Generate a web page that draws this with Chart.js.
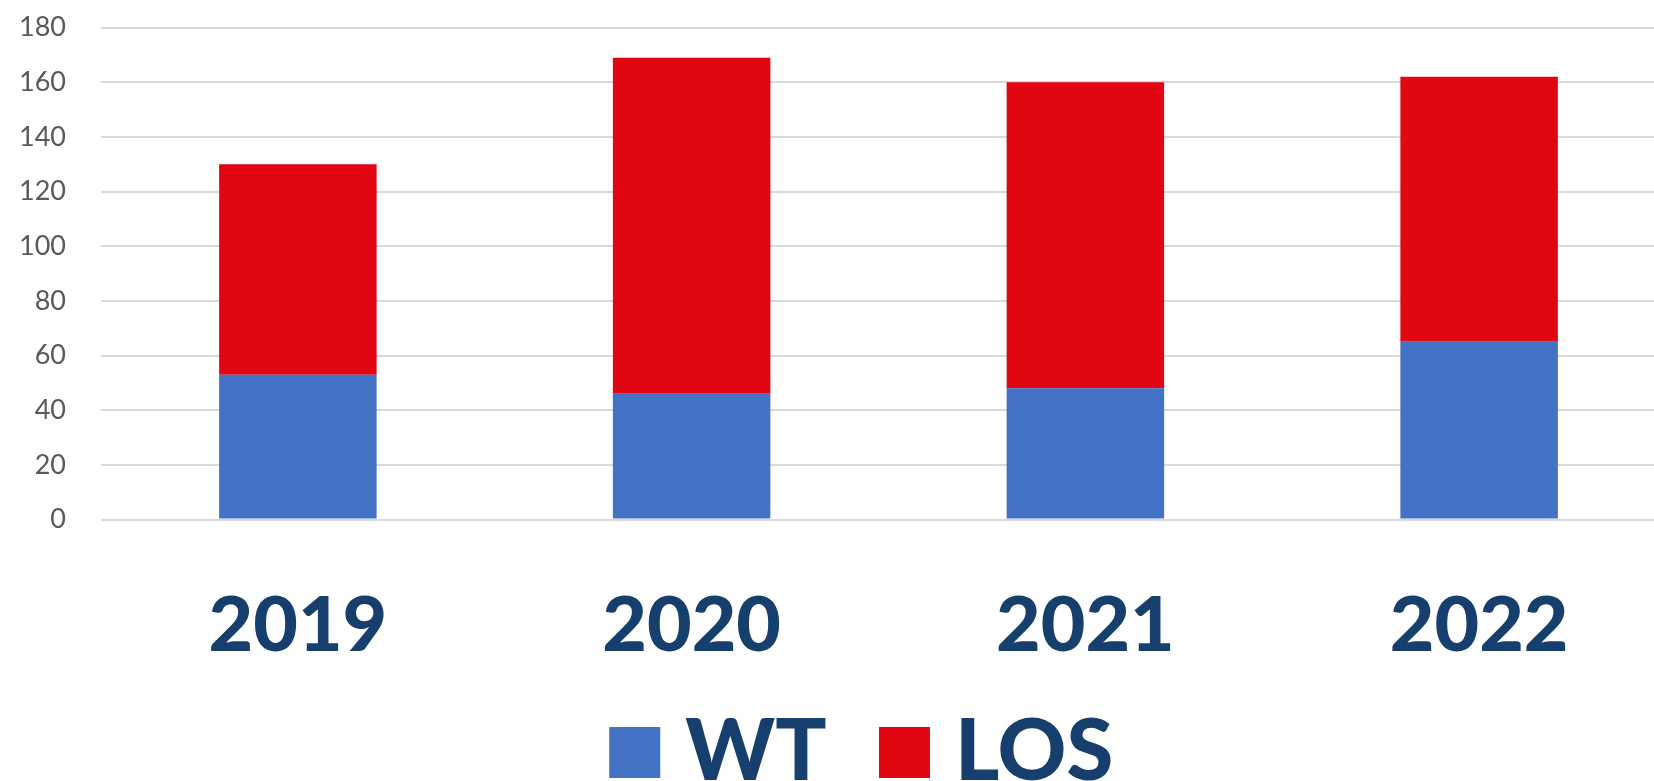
<!DOCTYPE html>
<html>
<head>
<meta charset="utf-8">
<script src="https://cdn.jsdelivr.net/npm/chart.js@4.4.1/dist/chart.umd.min.js"></script>
<style>
  html, body { margin: 0; padding: 0; background: #ffffff; overflow: hidden; }
  #wrap { position: absolute; left: 0; top: 0; width: 1740px; height: 805px; }
</style>
</head>
<body>
<div id="wrap"><canvas id="c" width="1740" height="805"></canvas></div>
<script>
const categories = ['2019', '2020', '2021', '2022'];
const seriesNames = ['WT', 'LOS'];
const wtValues = [53, 46, 48, 65];
const losValues = [77, 123, 112, 97];
const yMin = 0, yMax = 180, yStep = 20;

const navy = '#173F6E';
const ctx = document.getElementById('c').getContext('2d');
new Chart(ctx, {
  type: 'bar',
  data: {
    labels: categories,
    datasets: [
      { label: seriesNames[0], data: wtValues, backgroundColor: '#4472C4', borderWidth: 0, pointStyle: 'rect' },
      { label: seriesNames[1], data: losValues, backgroundColor: '#E20613', borderWidth: 0, pointStyle: 'rect' }
    ]
  },
  options: {
    responsive: false,
    animation: false,
    devicePixelRatio: 1,
    layout: { padding: { left: 0, right: 0, top: 27.6, bottom: 0 } },
    datasets: { bar: { barPercentage: 0.4, categoryPercentage: 1.0 } },
    plugins: {
      tooltip: { enabled: false },
      legend: {
        position: 'bottom',
        labels: {
          usePointStyle: true,
          pointStyle: 'rect',
          boxWidth: 16,
          boxHeight: 51,
          padding: 70,
          color: navy,
          font: { family: 'Lato', weight: 900, size: 85 }
        }
      }
    },
    scales: {
      x: {
        stacked: true,
        grid: { display: false, drawTicks: false },
        border: { display: false },
        ticks: {
          color: navy,
          mirror: true,
          padding: -152.4,
          font: { family: 'Lato', weight: 900, size: 77 }
        },
        afterFit: (s) => { s.height = 120.5; }
      },
      y: {
        stacked: true,
        min: yMin,
        max: yMax,
        grid: { color: '#d9d9d9', lineWidth: 2, drawTicks: true, tickLength: 35, tickColor: 'rgba(0,0,0,0)' },
        border: { display: false },
        ticks: {
          stepSize: yStep,
          color: '#595959',
          padding: 0,
          font: { family: 'Lato', size: 27 }
        },
        afterFit: (s) => { s.width = 101; }
      },
      yR: {
        type: 'linear',
        position: 'right',
        grid: { display: false, drawTicks: false },
        border: { display: false },
        ticks: { display: false },
        afterFit: (s) => { s.width = 64; }
      }
    }
  }
});
</script>
</body>
</html>
